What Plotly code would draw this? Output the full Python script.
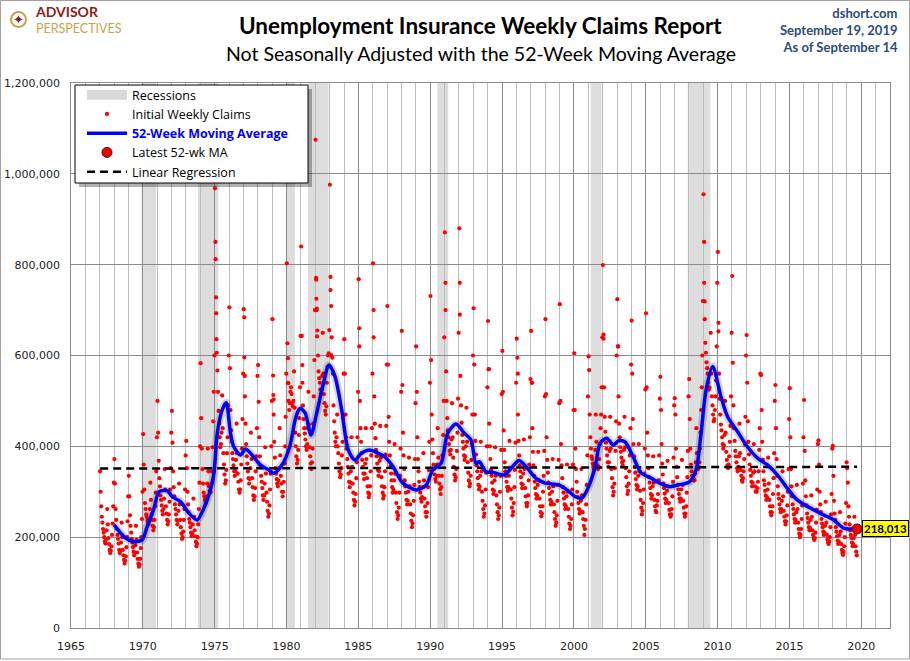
import plotly.graph_objects as go

# Initial weekly claims (NSA), two readings per month, in thousands
claims_1960s = [
    345, 300, 268, 245, 232, 218, 210, 200, 190, 186, 195, 215, 262, 228, 198, 185, 172, 165, 170, 180, 205, 230, 268, 320,  # 1967
    372, 318, 262, 238, 218, 205, 196, 186, 172, 165, 170, 188, 232, 200, 172, 160, 150, 142, 148, 158, 178, 200, 235, 290,  # 1968
    335, 290, 248, 225, 210, 196, 188, 178, 168, 160, 166, 182, 225, 194, 166, 152, 142, 135, 140, 152, 176, 200, 240, 300,  # 1969
]
claims_1970s = [
    427, 360, 305, 275, 262, 250, 245, 238, 232, 228, 238, 262, 320, 282, 250, 238, 225, 215, 222, 238, 268, 298, 345, 420,  # 1970
    500, 430, 368, 330, 312, 292, 282, 270, 258, 250, 262, 285, 350, 305, 268, 252, 238, 228, 235, 250, 278, 305, 352, 430,  # 1971
    478, 408, 345, 310, 290, 272, 262, 250, 238, 228, 236, 258, 318, 272, 238, 222, 208, 196, 200, 212, 238, 262, 305, 380,  # 1972
    412, 352, 300, 272, 255, 240, 232, 222, 210, 202, 208, 228, 285, 245, 215, 202, 190, 180, 186, 200, 228, 262, 320, 400,  # 1973
    583, 462, 395, 350, 318, 298, 290, 282, 278, 275, 290, 318, 395, 345, 312, 302, 298, 300, 318, 345, 398, 455, 520, 600,  # 1974
    968, 812, 693, 606, 567, 520, 478, 450, 420, 398, 405, 430, 512, 440, 385, 360, 338, 318, 325, 348, 385, 420, 490, 600,  # 1975
    706, 572, 480, 435, 410, 385, 372, 358, 345, 335, 345, 370, 450, 385, 340, 322, 305, 298, 305, 325, 360, 395, 460, 560,  # 1976
    702, 596, 510, 450, 405, 378, 362, 345, 330, 318, 328, 352, 430, 372, 330, 310, 292, 282, 290, 308, 345, 378, 440, 555,  # 1977
    579, 498, 420, 378, 355, 335, 322, 308, 292, 282, 292, 318, 398, 340, 298, 278, 258, 245, 252, 270, 305, 340, 400, 500,  # 1978
    680, 556, 470, 410, 375, 352, 340, 328, 318, 312, 325, 352, 440, 380, 335, 318, 300, 290, 300, 322, 362, 400, 465, 560,  # 1979
]
claims_1980s = [
    803, 627, 540, 500, 480, 495, 520, 530, 515, 495, 488, 500, 565, 485, 430, 400, 378, 362, 370, 392, 425, 462, 530, 643,  # 1980
    840, 643, 540, 490, 460, 440, 428, 415, 400, 392, 405, 440, 520, 448, 398, 378, 362, 350, 365, 395, 450, 510, 590, 700,  # 1981
    1075, 767, 703, 655, 600, 565, 550, 540, 525, 515, 525, 555, 650, 560, 515, 495, 478, 470, 488, 540, 575, 600, 605, 656,  # 1982
    976, 773, 709, 640, 595, 560, 490, 455, 430, 410, 400, 420, 470, 400, 385, 362, 345, 332, 338, 352, 380, 410, 462, 560,  # 1983
    636, 560, 470, 420, 395, 372, 355, 340, 322, 310, 320, 345, 420, 355, 318, 298, 282, 270, 278, 295, 330, 365, 420, 520,  # 1984
    768, 620, 500, 440, 410, 385, 370, 355, 340, 328, 340, 362, 440, 372, 330, 312, 298, 288, 295, 312, 345, 380, 440, 560,  # 1985
    803, 640, 510, 450, 418, 392, 378, 362, 348, 335, 345, 368, 445, 375, 332, 312, 298, 285, 292, 310, 345, 382, 445, 580,  # 1986
    709, 580, 465, 410, 380, 355, 340, 325, 310, 298, 305, 325, 405, 340, 298, 275, 255, 240, 248, 265, 298, 335, 395, 520,  # 1987
    654, 535, 430, 380, 350, 325, 312, 298, 282, 272, 280, 300, 375, 312, 272, 252, 236, 222, 230, 248, 280, 315, 372, 495,  # 1988
    620, 520, 420, 372, 345, 322, 310, 298, 285, 278, 288, 310, 385, 325, 285, 268, 255, 245, 255, 275, 310, 348, 410, 540,  # 1989
]
claims_1990s = [
    731, 590, 470, 415, 385, 360, 350, 338, 328, 322, 335, 360, 440, 375, 335, 318, 305, 295, 310, 335, 380, 425, 500, 640,  # 1990
    871, 700, 565, 500, 462, 435, 420, 405, 390, 382, 392, 415, 495, 420, 375, 355, 338, 325, 332, 350, 390, 430, 505, 650,  # 1991
    880, 690, 555, 490, 452, 425, 410, 395, 380, 370, 378, 400, 485, 410, 365, 342, 325, 312, 318, 335, 370, 405, 470, 600,  # 1992
    704, 580, 470, 412, 382, 358, 345, 330, 315, 305, 312, 335, 410, 345, 300, 280, 262, 245, 252, 270, 305, 342, 400, 530,  # 1993
    676, 570, 450, 400, 372, 348, 335, 320, 305, 295, 302, 325, 398, 335, 292, 272, 255, 240, 248, 265, 300, 335, 392, 515,  # 1994
    610, 520, 435, 392, 365, 345, 335, 322, 310, 302, 310, 335, 412, 350, 305, 285, 265, 248, 256, 275, 310, 348, 408, 540,  # 1995
    637, 595, 470, 412, 380, 358, 345, 332, 318, 308, 316, 340, 415, 350, 308, 290, 275, 268, 275, 292, 325, 360, 420, 548,  # 1996
    654, 540, 440, 388, 358, 335, 322, 308, 295, 285, 292, 315, 388, 325, 285, 268, 255, 246, 252, 268, 300, 335, 390, 510,  # 1997
    680, 515, 420, 370, 342, 320, 308, 295, 282, 272, 278, 300, 372, 312, 272, 255, 240, 225, 232, 248, 280, 315, 370, 495,  # 1998
    713, 500, 405, 358, 330, 310, 298, 285, 272, 262, 268, 290, 360, 300, 262, 245, 230, 218, 225, 240, 272, 305, 360, 480,  # 1999
]
claims_2000s = [
    605, 480, 395, 350, 322, 300, 288, 275, 262, 252, 258, 280, 350, 292, 255, 240, 225, 205, 218, 238, 272, 315, 380, 510,  # 2000
    598, 568, 470, 420, 395, 378, 372, 362, 355, 350, 362, 392, 470, 410, 372, 358, 350, 355, 372, 405, 440, 470, 530, 640,  # 2001
    799, 646, 530, 465, 432, 408, 395, 380, 365, 355, 365, 390, 465, 395, 350, 330, 310, 292, 300, 318, 352, 390, 455, 600,  # 2002
    724, 620, 510, 450, 420, 398, 388, 375, 365, 358, 368, 392, 465, 398, 352, 332, 312, 295, 302, 318, 345, 380, 440, 580,  # 2003
    677, 560, 460, 405, 378, 355, 342, 328, 315, 305, 312, 335, 405, 345, 302, 282, 265, 250, 258, 275, 305, 340, 395, 525,  # 2004
    693, 530, 430, 380, 352, 332, 320, 308, 295, 285, 292, 312, 378, 320, 282, 268, 258, 255, 270, 280, 295, 325, 380, 505,  # 2005
    553, 480, 405, 362, 338, 318, 308, 296, 285, 275, 282, 302, 368, 312, 275, 260, 250, 245, 250, 262, 290, 322, 375, 490,  # 2006
    506, 470, 395, 355, 332, 315, 305, 295, 285, 278, 285, 305, 370, 315, 280, 265, 252, 245, 252, 268, 298, 332, 390, 510,  # 2007
    548, 460, 395, 360, 345, 335, 335, 330, 325, 325, 340, 365, 440, 385, 355, 350, 355, 365, 395, 430, 480, 530, 600, 720,  # 2008
    955, 760, 680, 628, 606, 585, 572, 560, 540, 525, 530, 560, 650, 560, 510, 490, 470, 455, 460, 480, 510, 545, 620, 760,  # 2009
]
claims_2010s = [
    828, 672, 560, 505, 470, 448, 435, 420, 405, 395, 402, 425, 500, 430, 388, 370, 358, 352, 360, 378, 410, 445, 510, 650,  # 2010
    775, 584, 490, 440, 412, 390, 378, 365, 352, 345, 355, 378, 450, 385, 348, 335, 325, 322, 330, 345, 372, 405, 465, 600,  # 2011
    645, 540, 455, 410, 382, 360, 348, 335, 322, 312, 320, 342, 405, 345, 312, 300, 302, 300, 308, 322, 345, 392, 440, 560,  # 2012
    557, 480, 410, 370, 345, 325, 315, 302, 292, 282, 288, 305, 375, 318, 282, 268, 255, 248, 255, 268, 295, 330, 385, 500,  # 2013
    535, 440, 372, 335, 312, 295, 285, 272, 262, 255, 262, 280, 345, 290, 258, 245, 235, 228, 235, 248, 270, 300, 350, 460,  # 2014
    528, 420, 350, 312, 290, 272, 262, 250, 240, 232, 238, 255, 315, 262, 232, 218, 208, 200, 205, 218, 240, 270, 318, 420,  # 2015
    502, 390, 325, 290, 270, 252, 242, 232, 222, 215, 220, 238, 292, 245, 215, 205, 198, 194, 198, 210, 232, 260, 305, 405,  # 2016
    413, 360, 300, 272, 255, 240, 230, 222, 212, 205, 210, 225, 278, 232, 205, 195, 188, 185, 190, 200, 222, 250, 295, 395,  # 2017
    401, 335, 280, 252, 238, 222, 212, 202, 192, 185, 190, 205, 255, 212, 185, 172, 165, 161, 168, 180, 200, 230, 275, 365,  # 2018
    352, 320, 268, 245, 228, 215, 205, 198, 188, 180, 185, 198, 245, 205, 180, 168, 160,  # 2019 (to Sep 14)
]

# isolated spikes read individually (decimal year, thousands)
spike_years = [1975.05, 1975.09, 1975.12, 1977.06, 1977.1, 1979.08, 1979.1, 1980.1, 1980.12, 1981.1,
               1982.06, 1982.08, 1982.1, 1982.12, 1983.06, 1983.1, 1985.06, 1986.06, 1991.06, 1992.06,
               1994.08, 1996.1, 1997.1, 2002.06, 2003.08, 2009.06, 2009.1, 2010.06]
spike_values = [850, 728, 636, 684, 555, 513, 503, 594, 539, 579,
                771, 725, 700, 642, 744, 601, 660, 700, 760, 760,
                570, 560, 540, 637, 620, 850, 719, 653]

# 52-week moving average
ma_years = [1968.0, 1968.8, 1969.4, 1969.95, 1970.3, 1970.78, 1971.13, 1971.7, 1972.05, 1972.63,
            1973.2, 1973.78, 1974.25, 1974.7, 1974.95, 1975.18, 1975.52, 1975.8, 1976.1, 1976.33,
            1976.8, 1977.14, 1977.6, 1978.18, 1978.76, 1979.1, 1979.68, 1980.22, 1980.6, 1980.84,
            1980.96, 1981.3, 1981.7, 1982.1, 1982.57, 1982.96, 1983.38, 1983.84, 1984.3, 1984.76,
            1985.22, 1985.76, 1986.37, 1986.84, 1987.42, 1988.1, 1989.03, 1989.72, 1990.18, 1990.76,
            1991.22, 1991.8, 1992.37, 1992.84, 1993.18, 1993.42, 1993.88, 1994.35, 1995.15, 1995.72,
            1996.18, 1996.76, 1997.34, 1998.02, 1998.95, 1999.52, 2000.1, 2000.56, 2001.02, 2001.48,
            2001.83, 2002.28, 2002.74, 2003.1, 2003.55, 2004.12, 2004.7, 2005.38, 2005.97, 2006.66,
            2007.24, 2008.05, 2008.5, 2008.85, 2009.2, 2009.66, 2010.24, 2010.7, 2011.4, 2012.08,
            2012.78, 2013.47, 2014.16, 2014.85, 2015.54, 2016.46, 2017.38, 2018.08, 2018.77, 2019.42,
            2019.71]
ma_values = [227, 198, 190, 194, 223, 264, 300, 302, 289, 278,
             253, 238, 264, 304, 341, 429, 480, 496, 429, 399,
             381, 394, 381, 359, 348, 341, 359, 399, 458, 480,
             484, 473, 425, 473, 539, 579, 553, 480, 392, 370,
             385, 392, 385, 377, 355, 319, 304, 315, 348, 363,
             429, 449, 429, 414, 363, 366, 344, 343, 337, 355,
             369, 352, 330, 319, 315, 304, 289, 286, 311, 355,
             407, 418, 403, 412, 410, 377, 341, 330, 319, 311,
             315, 322, 348, 429, 524, 576, 509, 465, 432, 399,
             374, 359, 337, 308, 282, 264, 249, 238, 220, 218,
             218.013]

latest_year = 2019.71
latest_value = 218013

reg_years = [1967.03, 2019.71]
reg_values = [351000, 355000]

rec_start = [1969.92, 1973.83, 1980.0, 1981.5, 1990.5, 2001.17, 2007.92]
rec_end = [1970.92, 1975.25, 1980.58, 1982.92, 1991.25, 2001.92, 2009.5]

# two readings per month starting Jan 1967
claims = claims_1960s + claims_1970s + claims_1980s + claims_1990s + claims_2000s + claims_2010s
claim_years = [1967 + (i + 0.5) / 24 for i in range(len(claims))]

fig = go.Figure()

fig.add_trace(go.Scatter(x=[None], y=[None], mode='lines', name='Recessions',
                         line=dict(color='#D9D9D9', width=11), legendrank=1))
fig.add_trace(go.Scatter(x=claim_years + spike_years,
                         y=[v * 1000 for v in claims + spike_values],
                         mode='markers', name='Initial Weekly Claims',
                         marker=dict(color='#FF0000', size=4.2), legendrank=2))
fig.add_trace(go.Scatter(x=reg_years, y=reg_values, mode='lines', name='Linear Regression',
                         line=dict(color='black', width=2.5, dash='8px,5px'), legendrank=5))
fig.add_trace(go.Scatter(x=ma_years, y=[v * 1000 for v in ma_values], mode='lines',
                         line=dict(color='rgba(0,0,0,0.16)', width=8, shape='spline', smoothing=0.8),
                         showlegend=False, hoverinfo='skip'))
fig.add_trace(go.Scatter(x=ma_years, y=[v * 1000 for v in ma_values], mode='lines',
                         name="<b><span style='color:#0000FF'>52-Week Moving Average</span></b>",
                         line=dict(color='#0000FF', width=3.5, shape='spline', smoothing=0.8),
                         legendrank=3))
fig.add_trace(go.Scatter(x=[latest_year], y=[latest_value], mode='markers', name='Latest 52-wk MA',
                         marker=dict(color='#EE0000', size=10, line=dict(color='#700000', width=1)),
                         legendrank=4))

for s, e in zip(rec_start, rec_end):
    fig.add_vrect(x0=s, x1=e, fillcolor='#DDDDDD', line_width=0, layer='below')

fig.add_annotation(x=latest_year, y=latest_value, text='<b>218,013</b>', showarrow=False,
                   xanchor='left', xshift=5, font=dict(family='Lato', size=11.5, color='black'),
                   bgcolor='#FFFF00', bordercolor='black', borderwidth=1, borderpad=1)

# title block
fig.add_annotation(x=0.5, y=1.0, xref='paper', yref='paper', xanchor='center', yanchor='middle',
                   text='<b>Unemployment Insurance Weekly Claims Report</b>', showarrow=False,
                   font=dict(family='Lato', size=22.5, color='black'), yshift=58)
fig.add_annotation(x=0.5, y=1.0, xref='paper', yref='paper', xanchor='center', yanchor='middle',
                   text='Not Seasonally Adjusted with the 52-Week Moving Average', showarrow=False,
                   font=dict(family='Lato', size=19.5, color='black'), yshift=30)
fig.add_annotation(x=1.0, y=1.0, xref='paper', yref='paper', xanchor='right', yanchor='top',
                   text='<b>dshort.com<br>September 19, 2019<br>As of September 14</b>',
                   showarrow=False, align='right', xshift=10, yshift=80,
                   font=dict(family='Lato', size=13, color='#2B4C7E'))

# logo
fig.add_annotation(x=-0.0464, y=1.1156, xref='paper', yref='paper', xanchor='left', yanchor='middle',
                   text="<b><span style='font-size:14px'>ADVISOR</span></b><br>"
                        "<span style='font-size:12.5px;color:#C9A24F'>PERSPECTIVES</span>",
                   showarrow=False, align='left',
                   font=dict(family='Lato', size=12.5, color='#8E1B22'))
fig.add_shape(type='circle', xref='paper', yref='paper', x0=-0.0733, x1=-0.0549, y0=1.1028, y1=1.1303,
              line=dict(color='#C9A24F', width=2), fillcolor='white')
fig.add_annotation(x=-0.0641, y=1.1165, xref='paper', yref='paper', xanchor='center', yanchor='middle',
                   text='✦', showarrow=False, font=dict(family='DejaVu Sans', size=13, color='#8E1B22'))

# legend box with shadow, and outer frame
fig.add_shape(type='rect', xref='paper', yref='paper', x0=0.0098, x1=0.2943, y0=0.8092, y1=0.9890,
              fillcolor='rgba(0,0,0,0.30)', line_width=0, layer='above')
fig.add_shape(type='rect', xref='paper', yref='paper', x0=0.0049, x1=0.2894, y0=0.8165, y1=0.9963,
              fillcolor='white', line=dict(color='black', width=1), layer='above')
fig.add_shape(type='rect', xref='paper', yref='paper', x0=-0.0861, x1=1.0238, y0=-0.0569, y1=1.1514,
              line=dict(color='#A0A0A0', width=1), fillcolor='rgba(0,0,0,0)')

fig.update_layout(
    width=910, height=661,
    margin=dict(l=71, r=20, t=83, b=33, autoexpand=False),
    paper_bgcolor='white', plot_bgcolor='white',
    font=dict(family='DejaVu Sans', size=10, color='#222222'),
    showlegend=True,
    legend=dict(x=0.0134, y=1.0055, xanchor='left', yanchor='top', bgcolor='rgba(0,0,0,0)',
                borderwidth=0, itemwidth=40, tracegroupgap=0,
                font=dict(family='Open Sans', size=12.5, color='black')),
    xaxis=dict(range=[1965, 2022], tickmode='linear', tick0=1965, dtick=5, showgrid=True,
               gridcolor='#8C8C8C', gridwidth=1, ticks='', ticklabelstandoff=8,
               showline=True, linecolor='#8C8C8C', mirror=True, zeroline=False,
               tickfont=dict(family='DejaVu Sans', size=11),
               minor=dict(dtick=1, tick0=1965, showgrid=True, gridcolor='#BDBDBD', gridwidth=1)),
    yaxis=dict(range=[0, 1200000], dtick=200000, tickformat=',', showgrid=True,
               gridcolor='#8C8C8C', gridwidth=1, ticks='', ticksuffix='\u2002\u2009',
               showline=True, linecolor='#8C8C8C', mirror=True, zeroline=False,
               tickfont=dict(family='DejaVu Sans', size=11)),
)

fig.write_html("out.html", config={'displayModeBar': False},
               post_script="document.body.style.margin='0';")
